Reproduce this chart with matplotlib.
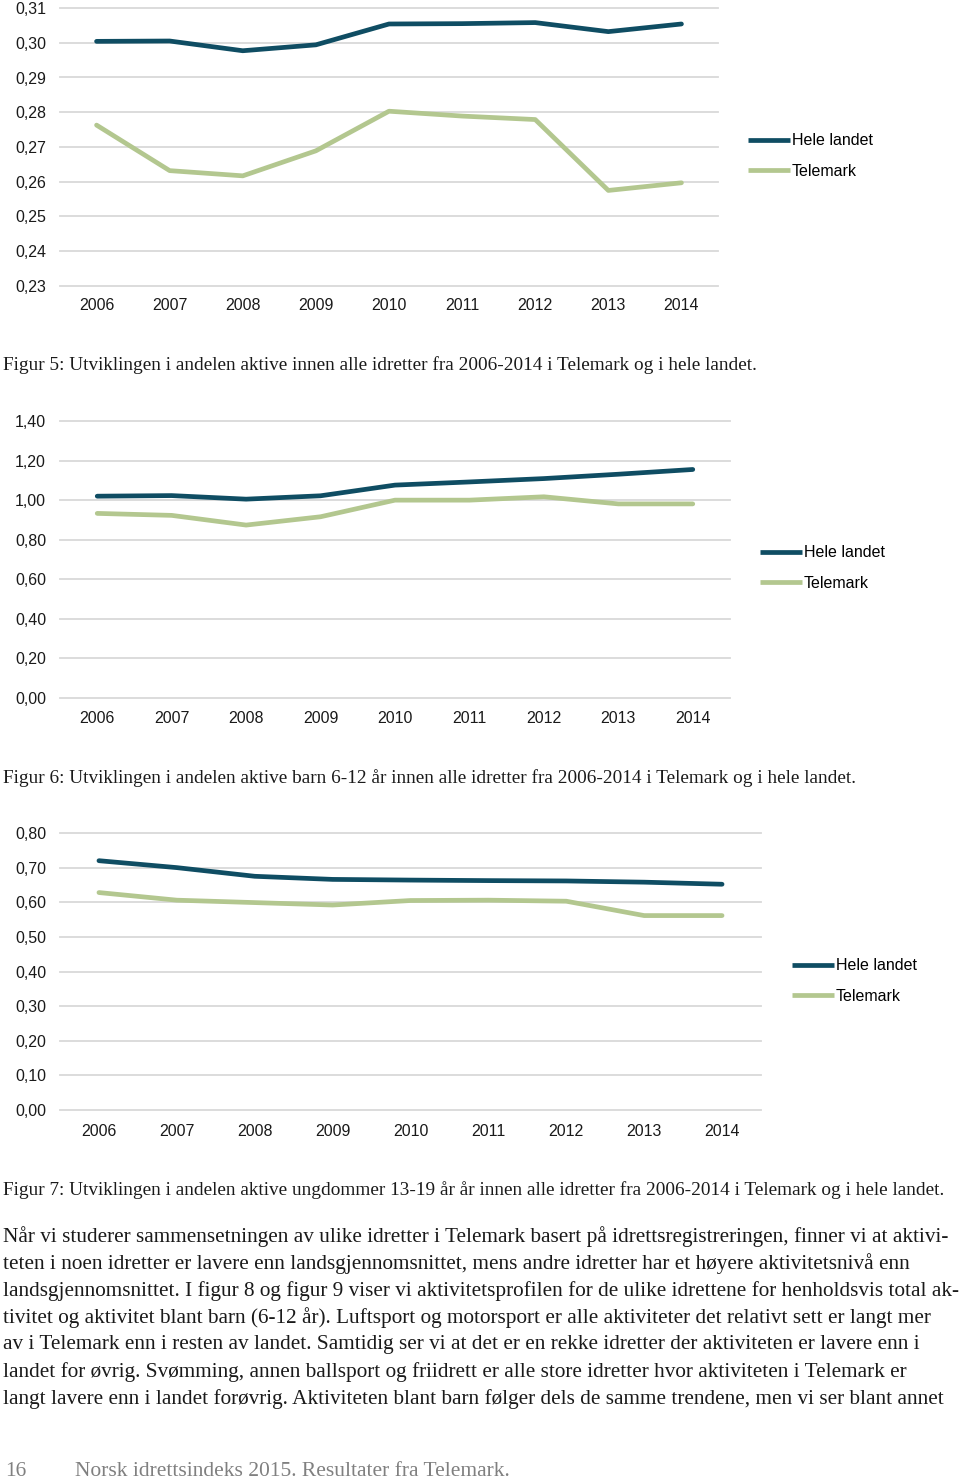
import numpy as np
import matplotlib
matplotlib.use('Agg')
import matplotlib.pyplot as plt
from matplotlib.lines import Line2D

# Data
years = ['2006', '2007', '2008', '2009', '2010', '2011', '2012', '2013', '2014']

# Figur 5: alle
hele_alle = [0.3004, 0.3005, 0.2977, 0.2994, 0.3054, 0.3055, 0.3058, 0.3032, 0.3054]
tele_alle = [0.2763, 0.2632, 0.2617, 0.2689, 0.2803, 0.2789, 0.2779, 0.2575, 0.2597]

# Figur 6: barn 6-12
hele_barn = [1.020, 1.023, 1.005, 1.022, 1.076, 1.092, 1.109, 1.131, 1.155]
tele_barn = [0.933, 0.923, 0.874, 0.916, 1.000, 1.000, 1.017, 0.981, 0.981]

# Figur 7: ungdom 13-19
hele_ungdom = [0.720, 0.700, 0.675, 0.666, 0.664, 0.6625, 0.6615, 0.658, 0.652]
tele_ungdom = [0.628, 0.606, 0.599, 0.592, 0.605, 0.606, 0.603, 0.5615, 0.5615]

series_names = ['Hele landet', 'Telemark']

captions = [
    'Figur 5: Utviklingen i andelen aktive innen alle idretter fra 2006-2014 i Telemark og i hele landet.',
    'Figur 6: Utviklingen i andelen aktive barn 6-12 år innen alle idretter fra 2006-2014 i Telemark og i hele landet.',
    'Figur 7: Utviklingen i andelen aktive ungdommer 13-19 år år innen alle idretter fra 2006-2014 i Telemark og i hele landet.',
]

body = [
    'Når vi studerer sammensetningen av ulike idretter i Telemark basert på idrettsregistreringen, finner vi at aktivi-',
    'teten i noen idretter er lavere enn landsgjennomsnittet, mens andre idretter har et høyere aktivitetsnivå enn',
    'landsgjennomsnittet. I figur 8 og figur 9 viser vi aktivitetsprofilen for de ulike idrettene for henholdsvis total ak-',
    'tivitet og aktivitet blant barn (6-12 år). Luftsport og motorsport er alle aktiviteter det relativt sett er langt mer',
    'av i Telemark enn i resten av landet. Samtidig ser vi at det er en rekke idretter der aktiviteten er lavere enn i',
    'landet for øvrig. Svømming, annen ballsport og friidrett er alle store idretter hvor aktiviteten i Telemark er',
    'langt lavere enn i landet forøvrig. Aktiviteten blant barn følger dels de samme trendene, men vi ser blant annet',
]

DARK = '#0f4d63'
LIGHT = '#b3c78f'
GRID = '#d9d9d9'

W, H = 960, 1482
fig = plt.figure(figsize=(W / 100, H / 100), dpi=100)
fig.patch.set_facecolor('white')


def px_axes(x0, y_top, x1, y_bot):
    return fig.add_axes([x0 / W, 1 - y_bot / H, (x1 - x0) / W, (y_bot - y_top) / H])


def line_chart(box, hele, tele, yticks, fmt, leg_x, leg_y, xpad):
    ax = px_axes(*box)
    x = np.arange(len(years))
    ax.plot(x, hele, color=DARK, lw=3.4, solid_capstyle='round', zorder=3)
    ax.plot(x, tele, color=LIGHT, lw=3.4, solid_capstyle='round', zorder=3)
    ax.set_xlim(-0.5, len(years) - 0.5)
    ax.set_ylim(yticks[0], yticks[-1])
    ax.set_yticks(yticks)
    ax.set_yticklabels([fmt.format(v).replace('.', ',') for v in yticks])
    ax.set_xticks(x)
    ax.set_xticklabels(years)
    ax.grid(axis='y', color=GRID, lw=1.3)
    ax.set_axisbelow(True)
    for s in ax.spines.values():
        s.set_visible(False)
    ax.tick_params(axis='y', length=0, pad=10, labelsize=11.5, labelcolor='#1a1a1a')
    ax.tick_params(axis='x', length=0, pad=xpad, labelsize=11.5, labelcolor='#1a1a1a')
    for gl in ax.get_ygridlines():
        gl.set_clip_on(False)
    handles = [Line2D([], [], color=DARK, lw=3.4, solid_capstyle='butt'),
               Line2D([], [], color=LIGHT, lw=3.4, solid_capstyle='butt')]
    fig.legend(handles, series_names, loc='center left',
               bbox_to_anchor=(leg_x / W, 1 - leg_y / H), frameon=False,
               fontsize=11.5, handlelength=2.6, handletextpad=0.15,
               labelspacing=0.95, borderpad=0, borderaxespad=0)
    return ax


plt.rcParams['font.family'] = ['Liberation Sans', 'DejaVu Sans']

line_chart((60, 8, 718, 286), hele_alle, tele_alle,
           np.round(np.arange(0.23, 0.3101, 0.01), 2), '{:.2f}', 748, 156, 8.5)
line_chart((60, 421, 730, 698), hele_barn, tele_barn,
           np.round(np.arange(0.0, 1.401, 0.2), 2), '{:.2f}', 760, 568, 9.5)
line_chart((60, 833, 761, 1110), hele_ungdom, tele_ungdom,
           np.round(np.arange(0.0, 0.801, 0.1), 2), '{:.2f}', 792, 981, 10)

serif = ['Liberation Serif', 'DejaVu Serif']
for cap, y in zip(captions, [365, 778, 1190]):
    fig.text(3 / W, 1 - y / H, cap, family=serif, fontsize=13.9,
             va='center', ha='left', color='#1a1a1a')

for i, ln in enumerate(body):
    y = 1237 + 27 * i
    fig.text(3 / W, 1 - y / H, ln, family=serif, fontsize=15.3,
             va='center', ha='left', color='#1a1a1a')

fig.text(5 / W, 1 - 1472 / H, '16', family=serif, fontsize=15.5,
         va='center', ha='left', color='#808080')
fig.text(75 / W, 1 - 1472 / H, 'Norsk idrettsindeks 2015. Resultater fra Telemark.',
         family=serif, fontsize=15.5, va='center', ha='left', color='#808080')

fig.savefig('out.png', dpi=100)
